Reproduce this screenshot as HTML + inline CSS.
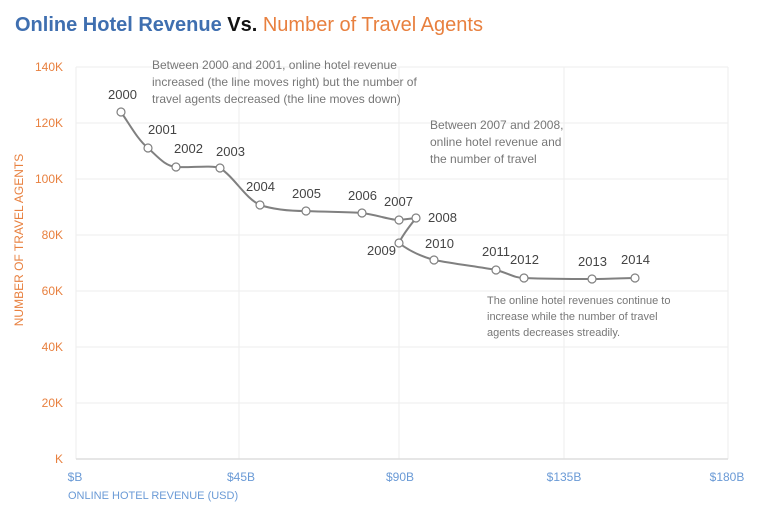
<!DOCTYPE html>
<html><head><meta charset="utf-8"><style>
body{margin:0;background:#fff;}
svg{display:block;font-family:"Liberation Sans",sans-serif;}
</style></head><body>
<svg width="768" height="515" viewBox="0 0 768 515">
<text x="15" y="31" font-size="20" font-weight="bold"><tspan fill="#3f6fb0">Online Hotel Revenue </tspan><tspan fill="#111">Vs. </tspan><tspan fill="#e8803f" font-weight="normal">Number of Travel Agents</tspan></text>
<g stroke="#eeeeee" stroke-width="1">
<line x1="76" y1="67" x2="728" y2="67"/><line x1="76" y1="123" x2="728" y2="123"/><line x1="76" y1="179" x2="728" y2="179"/><line x1="76" y1="235" x2="728" y2="235"/><line x1="76" y1="291" x2="728" y2="291"/><line x1="76" y1="347" x2="728" y2="347"/><line x1="76" y1="403" x2="728" y2="403"/>
<line x1="76" y1="67" x2="76" y2="459"/><line x1="239" y1="67" x2="239" y2="459"/><line x1="399" y1="67" x2="399" y2="459"/><line x1="564" y1="67" x2="564" y2="459"/><line x1="728" y1="67" x2="728" y2="459"/>
</g>
<line x1="76" y1="459" x2="728" y2="459" stroke="#ddd" stroke-width="1.5"/>
<g fill="#e8803f" font-size="12" text-anchor="end">
<text x="63" y="71">140K</text><text x="63" y="127">120K</text><text x="63" y="183">100K</text><text x="63" y="239">80K</text><text x="63" y="295">60K</text><text x="63" y="351">40K</text><text x="63" y="407">20K</text><text x="63" y="463">K</text>
</g>
<text transform="translate(23,240) rotate(-90)" text-anchor="middle" fill="#e8803f" font-size="12">NUMBER OF TRAVEL AGENTS</text>
<g fill="#6a9ad6" font-size="12" text-anchor="middle">
<text x="75" y="481">$B</text><text x="241" y="481">$45B</text><text x="400" y="481">$90B</text><text x="564" y="481">$135B</text><text x="727" y="481">$180B</text>
</g>
<text x="68" y="499" fill="#6a9ad6" font-size="11">ONLINE HOTEL REVENUE (USD)</text>
<path d="M121,112 C130,125 138,140 148,148 C158,157 165,166 176,167 C190,168 210,165 220,168 C235,178 245,198 260,205 C275,210 290,211 306,211 C330,212 345,212 362,213 C378,215 390,220 399,220 L416,218 C410,226 403,234 399,243 C408,250 420,256 434,260 C455,264 480,267 496,270 C508,273 514,278 524,278 C550,279 570,279 592,279 C610,279 625,278 635,278" fill="none" stroke="#808080" stroke-width="2"/>
<g fill="#fff" stroke="#808080" stroke-width="1.2">
<circle cx="121" cy="112" r="4"/><circle cx="148" cy="148" r="4"/><circle cx="176" cy="167" r="4"/><circle cx="220" cy="168" r="4"/><circle cx="260" cy="205" r="4"/><circle cx="306" cy="211" r="4"/><circle cx="362" cy="213" r="4"/><circle cx="399" cy="220" r="4"/><circle cx="416" cy="218" r="4"/><circle cx="399" cy="243" r="4"/><circle cx="434" cy="260" r="4"/><circle cx="496" cy="270" r="4"/><circle cx="524" cy="278" r="4"/><circle cx="592" cy="279" r="4"/><circle cx="635" cy="278" r="4"/>
</g>
<g fill="#444" font-size="13">
<text x="108" y="99">2000</text><text x="148" y="134">2001</text><text x="174" y="153">2002</text><text x="216" y="156">2003</text><text x="246" y="191">2004</text><text x="292" y="198">2005</text><text x="348" y="200">2006</text><text x="384" y="206">2007</text><text x="428" y="222">2008</text><text x="367" y="255">2009</text><text x="425" y="248">2010</text><text x="482" y="256">2011</text><text x="510" y="264">2012</text><text x="578" y="266">2013</text><text x="621" y="264">2014</text>
</g>
<g fill="#777" font-size="12">
<text x="152" y="69">Between 2000 and 2001, online hotel revenue</text>
<text x="152" y="86">increased (the line moves right) but the number of</text>
<text x="152" y="103">travel agents decreased (the line moves down)</text>
<text x="430" y="129">Between 2007 and 2008,</text>
<text x="430" y="146">online hotel revenue and</text>
<text x="430" y="163">the number of travel</text>
</g>
<g fill="#777" font-size="11">
<text x="487" y="304">The online hotel revenues continue to</text>
<text x="487" y="320">increase while the number of travel</text>
<text x="487" y="336">agents decreases streadily.</text>
</g>
</svg>
</body></html>
